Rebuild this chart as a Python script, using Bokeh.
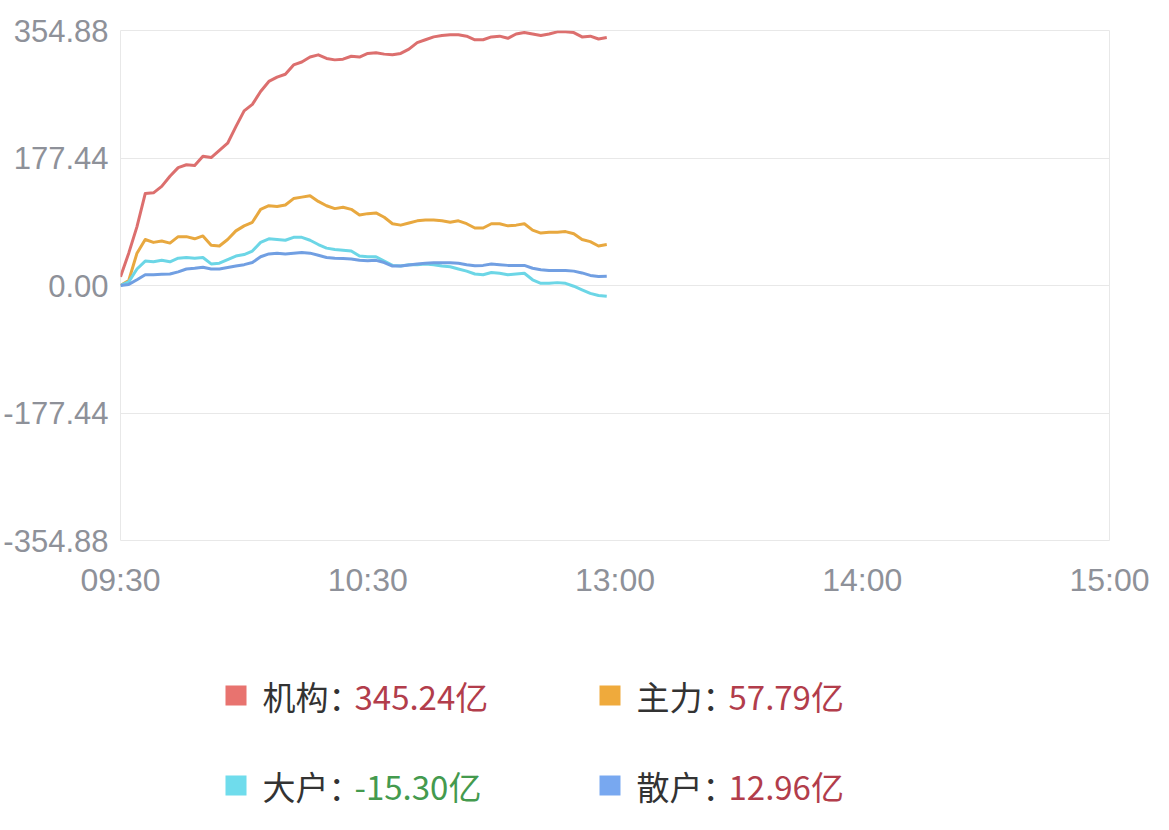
from bokeh.plotting import figure
from bokeh.models import Range1d, FixedTicker, ColumnDataSource
from bokeh.layouts import column
from bokeh.core.properties import value
from bokeh.embed import file_html
from bokeh.resources import INLINE

# ---------------- data ----------------
minutes = list(range(0, 120, 2))  # minutes since 09:30 (trading-time axis)

jigou = [12, 45, 82, 128, 129, 138, 152, 164, 168, 167, 180, 178, 188, 198, 221, 243,
         252, 270, 284, 290, 294, 307, 311, 318, 321, 316, 314, 315, 319, 318, 323, 324,
         322, 321, 323, 329, 338, 342, 346, 348, 349, 349, 347, 342, 342, 346, 347, 344,
         350, 352, 350, 348, 350, 353, 353, 352, 346, 347, 343, 345]
zhuli = [0, 7, 45, 64, 60, 62, 59, 68, 68, 65, 69, 56, 55, 64, 76, 83,
         88, 106, 111, 110, 112, 121, 123, 125, 117, 111, 107, 109, 106, 98, 100, 101,
         95, 86, 84, 87, 90, 91, 91, 90, 88, 90, 86, 80, 80, 86, 86, 83,
         84, 86, 77, 73, 74, 74, 75, 72, 64, 61, 55, 57]
dahu = [0, 5, 23, 34, 33, 35, 33, 38, 39, 38, 39, 30, 31, 36, 41, 43,
        48, 60, 65, 64, 63, 67, 67, 63, 57, 52, 50, 49, 48, 41, 40, 40,
        34, 28, 27, 29, 29, 30, 29, 27, 26, 23, 20, 16, 15, 18, 17, 15,
        16, 17, 8, 3, 3, 4, 3, -1, -6, -11, -14, -15]
sanhu = [0, 1.5, 8, 15, 15, 15.5, 16, 19, 23, 24, 25.5, 23, 23, 25, 27, 29,
         32, 40, 44, 45, 44, 45, 46, 45, 42, 39, 38, 37.5, 37, 35, 34.5, 35,
         32, 27, 27, 28.5, 30, 31, 31.5, 31.5, 31.5, 31, 29, 27.5, 28, 30, 29, 28,
         28, 28, 24, 22, 21, 21, 21, 20, 17.5, 14, 12.5, 13]

y_ticks = [-354.88, -177.44, 0.0, 177.44, 354.88]
x_ticks = [0, 60, 120, 180, 240]
x_tick_labels = ["09:30", "10:30", "13:00", "14:00", "15:00"]

series_names = ["机构", "主力", "大户", "散户"]
series_totals = ["345.24亿", "57.79亿", "-15.30亿", "12.96亿"]
line_colors = ["#dc6f6e", "#e8a83f", "#6cd6e6", "#719fe2"]
series_colors = ["#e8736f", "#efaa3c", "#6fdcec", "#78a8f0"]
value_colors = ["#b23d4b", "#b23d4b", "#449a4e", "#b23d4b"]

# ---------------- main chart ----------------
AX_FONT = "Liberation Sans"
AX_COLOR = "#8e9199"

p = figure(frame_width=989, frame_height=510, output_backend="svg", toolbar_location=None,
           x_range=Range1d(0, 240), y_range=Range1d(-354.88, 354.88),
           min_border_left=112, min_border_right=49, min_border_top=30, min_border_bottom=60)
p.background_fill_color = "white"
p.border_fill_color = "white"
p.outline_line_color = "#e8e8e8"
p.outline_line_width = 1

p.xgrid.visible = False
p.ygrid.grid_line_color = "#e8e8e8"
p.ygrid.grid_line_width = 1

p.yaxis.ticker = FixedTicker(ticks=y_ticks)
p.yaxis.major_label_overrides = {t: f"{t:.2f}" for t in y_ticks}
p.xaxis.ticker = FixedTicker(ticks=x_ticks)
p.xaxis.major_label_overrides = dict(zip(x_ticks, x_tick_labels))
for ax in (p.xaxis[0], p.yaxis[0]):
    ax.axis_line_color = None
    ax.major_tick_line_color = None
    ax.minor_tick_line_color = None
    ax.major_label_text_font = AX_FONT
    ax.major_label_text_color = AX_COLOR
p.yaxis.major_label_text_font_size = "31px"
p.xaxis.major_label_text_font_size = "32px"
p.yaxis.major_label_standoff = 6
p.xaxis.major_label_standoff = 15

for vals, col in zip([jigou, zhuli, dahu, sanhu], line_colors):
    p.line(minutes, vals, line_color=col, line_width=3, line_join="round")

# ---------------- legend (separate figure, frame aligned with the chart's) ----------------
X0 = 121          # page x of the frame's left edge
FW, H = 989, 222
lg = figure(frame_width=FW, frame_height=H, output_backend="svg", toolbar_location=None,
            x_range=Range1d(X0, X0 + FW), y_range=Range1d(H, 0), min_border=0,
            x_axis_location=None, y_axis_location=None)
lg.grid.visible = False
lg.outline_line_color = None
lg.background_fill_color = "white"
lg.border_fill_color = "white"

marker_x = [236.5, 610.5, 236.5, 610.5]
label_x = [263, 637, 263, 637]
total_x = [355, 729, 355, 729]
row_y = [95, 95, 185, 185]
names = [n + "：" for n in series_names]
lsrc = ColumnDataSource(dict(mx=marker_x, my=row_y, lx=label_x, vx=total_x,
                             names=names, totals=series_totals,
                             mcol=series_colors, vcol=value_colors))
lg.rect(x="mx", y="my", width=21, height=20, fill_color="mcol", line_color=None, source=lsrc)
lg.text(x="lx", y="my", text="names", text_font=value("Noto Sans CJK SC"),
        text_font_size="33px", text_color="#333333", text_baseline="middle", source=lsrc)
lg.text(x="vx", y="my", text="totals", text_font=value("Noto Sans CJK SC"),
        text_font_size="33px", text_color="vcol", text_baseline="middle", source=lsrc)

layout = column(p, lg, spacing=0)
open("out.html", "w").write(file_html(layout, INLINE))
